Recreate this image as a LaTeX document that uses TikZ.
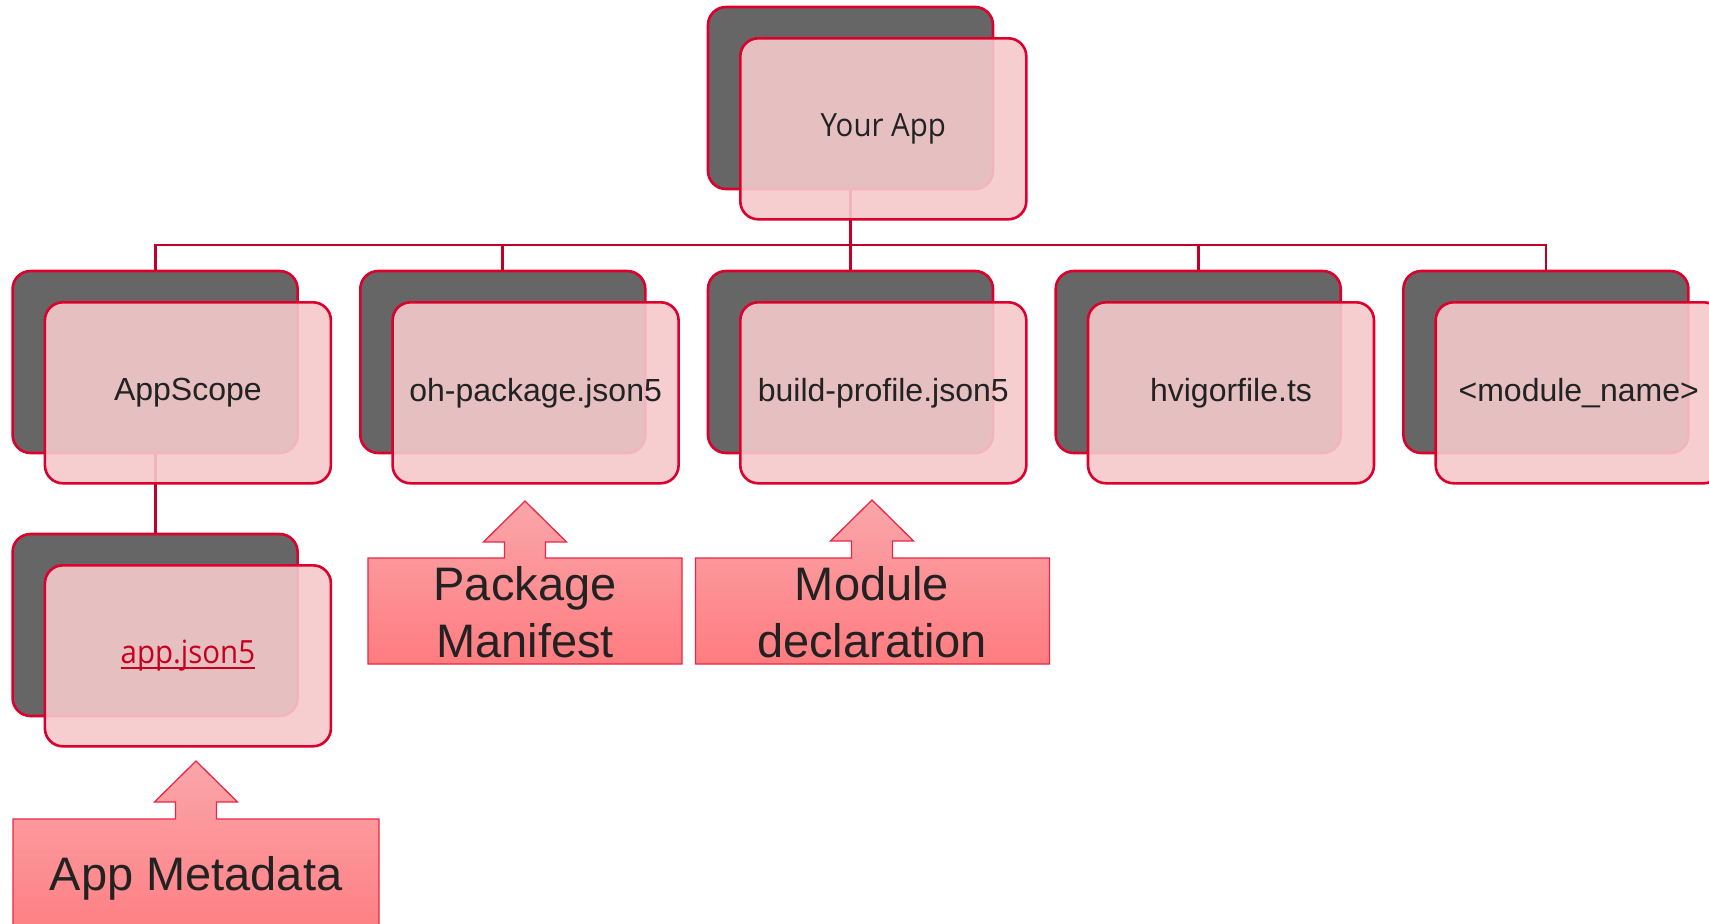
\documentclass[tikz,border=0pt]{standalone}
\usepackage{fontspec}
\setmainfont{Liberation Sans}
\newfontfamily\segfont[FakeStretch=0.92]{Open Sans}

\definecolor{boxred}{RGB}{220,0,45}
\definecolor{linkred}{RGB}{192,0,38}
\definecolor{cardgray}{RGB}{102,102,102}
\definecolor{cardpink}{RGB}{245,201,203}
\definecolor{inkdark}{RGB}{34,34,34}
\definecolor{calltop}{RGB}{250,166,170}
\definecolor{callbot}{RGB}{255,124,128}
\definecolor{callrim}{RGB}{232,40,70}
\definecolor{hrefred}{RGB}{200,0,30}

% underline drawn just under the baseline, crossing descenders
\newcommand\linkul[1]{\setbox0=\hbox{#1}\rlap{\rule[-5pt]{\wd0}{2pt}}\box0}

% up-pointing callout: left, right, top, bottom, arrow x, tip y
\newcommand\upcallout[6]{%
  \path[callshape] (#1,-#4) -- (#1,-#3) -- ({#5-20.5},-#3) -- ({#5-20.5},{-(#6+41)})
    -- ({#5-41.5},{-(#6+41)}) -- (#5,-#6) -- ({#5+41.5},{-(#6+41)})
    -- ({#5+20.5},{-(#6+41)}) -- ({#5+20.5},-#3) -- (#2,-#3) -- (#2,-#4) -- cycle;}

\tikzset{
  cardback/.style={draw=boxred, line width=2.6pt, fill=cardgray, rounded corners=18pt,
    minimum width=285pt, minimum height=182pt, anchor=north west, inner sep=0pt, outer sep=0pt},
  cardfront/.style={draw=boxred, line width=2.6pt, fill=cardpink, fill opacity=0.9,
    text opacity=1, rounded corners=18pt, minimum width=286pt, minimum height=181pt,
    anchor=north west, inner sep=0pt, text=inkdark, font=\fontsize{32}{38}\selectfont},
  conn/.style={draw=linkred, line width=2.8pt},
  callshape/.style={draw=callrim, line width=1.3pt, top color=calltop, bottom color=callbot},
  calltext/.style={text=inkdark, font=\fontsize{47}{57}\selectfont, align=center, inner sep=0pt}
}

\begin{document}
\begin{tikzpicture}[x=1pt,y=1pt]
\useasboundingbox (0,0) rectangle (1709,-924);
\clip (0,0) rectangle (1709,-924);

% back cards
\node[cardback] (yourB)  at (708,-7) {};
\node[cardback] (scopeB) at (12.6,-271) {};
\node[cardback] (pkgB)   at (360.3,-271) {};
\node[cardback] (bldB)   at (708,-271) {};
\node[cardback] (hvB)    at (1055.7,-271) {};
\node[cardback] (modB)   at (1403.4,-271) {};
\node[cardback] (appB)   at (12.6,-534) {};

% tree connectors
\coordinate (bus) at (0,-245);
\draw[conn] (yourB.south) -- (yourB.south |- bus);
\draw[conn] (scopeB.north) -- (scopeB.north |- bus) -| (modB.north);
\draw[conn] (pkgB.north) -- (pkgB.north |- bus);
\draw[conn] (bldB.north) -- (bldB.north |- bus);
\draw[conn] (hvB.north) -- (hvB.north |- bus);
\draw[conn] (scopeB.south) -- (appB.north);

% front cards
\node[cardfront] (your)  at (739,-37) {\segfont Your App};
\node[cardfront] (scope) at (43.6,-301) {AppScope};
\node[cardfront] (pkg)   at (391.3,-301) {oh-package.json5};
\node[cardfront] (bld)   at (739,-301) {build-profile.json5};
\node[cardfront] (hv)    at (1086.7,-301) {hvigorfile.ts};
\node[cardfront] (mod)   at (1434.4,-301) {<module\_name>};
\node[cardfront] (app)   at (43.6,-564) {\segfont\color{hrefred}\linkul{app.json5}};

% callouts
\upcallout{368}{682}{558}{664}{525}{501}
\upcallout{695.5}{1049.5}{558}{664}{872}{500}
\upcallout{13}{379}{819}{945}{196}{761}
\node[calltext] (pkgnote) at (525,-612) {Package\\Manifest};
\node[calltext] (modnote) at (872,-612) {Module\\declaration};
\node[calltext, anchor=base] (appnote) at (196,-890) {App Metadata};
\end{tikzpicture}
\end{document}
